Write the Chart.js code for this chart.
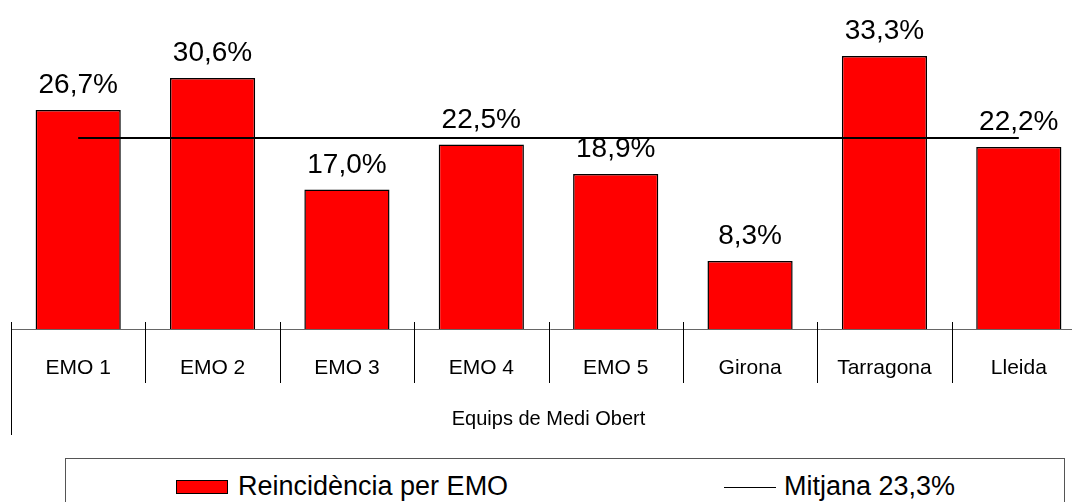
<!DOCTYPE html>
<html>
<head>
<meta charset="utf-8">
<script src="https://cdn.jsdelivr.net/npm/chart.js@4.4.0/dist/chart.umd.min.js"></script>
<style>
    html, body { margin: 0; padding: 0; background: #fff; overflow: hidden; }
    #wrap { position: relative; width: 1072px; height: 502px; overflow: hidden; }
    #chart { position: absolute; left: 0; top: 0; }
    .legend {
        position: absolute; left: 65px; top: 458px; width: 1000px; height: 60px;
        border: 1px solid #555; box-sizing: border-box;
        font-family: 'Liberation Sans', Arial, sans-serif; font-size: 27px; color: #000;
    }
    .legend .item { position: absolute; top: 12px; line-height: 30px; white-space: nowrap; }
    .legend .box { position: absolute; width: 52px; height: 14px; background: #ff0000; border: 1.5px solid #000; box-sizing: border-box; }
    .legend .ln { position: absolute; width: 52px; height: 0; border-top: 1.5px solid #000; }
</style>
</head>
<body>
<div id="wrap">
    <canvas id="chart" width="1090" height="450"></canvas>
    <div class="legend">
        <div class="box" style="left:110px; top:21px;"></div>
        <div class="item" style="left:172px;">Reincidència per EMO</div>
        <div class="ln" style="left:658px; top:28px;"></div>
        <div class="item" style="left:718px;">Mitjana 23,3%</div>
    </div>
</div>
<script>
// Chart data
const categories = ['EMO 1', 'EMO 2', 'EMO 3', 'EMO 4', 'EMO 5', 'Girona', 'Tarragona', 'Lleida'];
const reincidencia = [26.7, 30.6, 17.0, 22.5, 18.9, 8.3, 33.3, 22.2];
const mitjana = 23.3;
const axisTitle = 'Equips de Medi Obert';

const FONT = "'Liberation Sans', Arial, sans-serif";

function fmt(v) {
    return v.toFixed(1).replace('.', ',') + '%';
}

// Draw the value labels above the bars
const barLabels = {
    id: 'barLabels',
    afterDatasetsDraw(chart) {
        const ctx = chart.ctx;
        const meta = chart.getDatasetMeta(0);
        ctx.save();
        ctx.font = '28px ' + FONT;
        ctx.fillStyle = '#000';
        ctx.textAlign = 'center';
        ctx.textBaseline = 'alphabetic';
        meta.data.forEach((bar, i) => {
            ctx.fillText(fmt(reincidencia[i]), bar.x, bar.y - 17);
        });
        ctx.restore();
    }
};

// Category axis: base line, separators and title
const axisDecor = {
    id: 'axisDecor',
    afterDraw(chart) {
        const ctx = chart.ctx;
        const xs = chart.scales.x;
        const base = chart.chartArea.bottom;
        const w = (xs.right - xs.left) / categories.length;
        ctx.save();
        ctx.lineWidth = 1;
        ctx.strokeStyle = '#666';
        ctx.beginPath();
        ctx.moveTo(xs.left, base + 0.5);
        ctx.lineTo(chart.width, base + 0.5);
        ctx.stroke();

        ctx.strokeStyle = '#000';
        for (let i = 0; i <= categories.length; i++) {
            const x = Math.round(xs.left + i * w) + 0.5;
            ctx.beginPath();
            ctx.moveTo(x, base - 7);
            ctx.lineTo(x, i === 0 ? base + 106 : base + 54);
            ctx.stroke();
        }

        ctx.font = '20px ' + FONT;
        ctx.fillStyle = '#000';
        ctx.textAlign = 'center';
        ctx.textBaseline = 'middle';
        ctx.fillText(axisTitle, (xs.left + xs.right) / 2, base + 90);
        ctx.restore();
    }
};

const ctx = document.getElementById('chart').getContext('2d');
const chart = new Chart(ctx, {
    type: 'bar',
    data: {
        labels: categories,
        datasets: [{
            type: 'bar',
            label: 'Reincidència per EMO',
            data: reincidencia,
            backgroundColor: '#ff0000',
            borderColor: '#000',
            borderWidth: 1.5,
            borderSkipped: 'bottom',
            categoryPercentage: 1,
            barPercentage: 0.634,
            order: 1
        }, {
            type: 'line',
            label: 'Mitjana 23,3%',
            data: categories.map(() => mitjana),
            borderColor: '#000',
            borderWidth: 2,
            pointRadius: 0,
            fill: false,
            order: 0
        }]
    },
    options: {
        responsive: false,
        animation: false,
        layout: { padding: { left: 11, right: 4, top: 1, bottom: 0 } },
        plugins: {
            legend: { display: false },
            tooltip: { enabled: false }
        },
        scales: {
            x: {
                offset: true,
                grid: { display: false },
                border: { display: false },
                ticks: {
                    color: '#000',
                    font: { family: FONT, size: 21 },
                    padding: 19,
                    maxRotation: 0,
                    autoSkip: false
                },
                afterFit(scale) { scale.height = 121; }
            },
            y: {
                display: false,
                min: 0,
                max: 40
            }
        }
    },
    plugins: [barLabels, axisDecor]
});
</script>
</body>
</html>
